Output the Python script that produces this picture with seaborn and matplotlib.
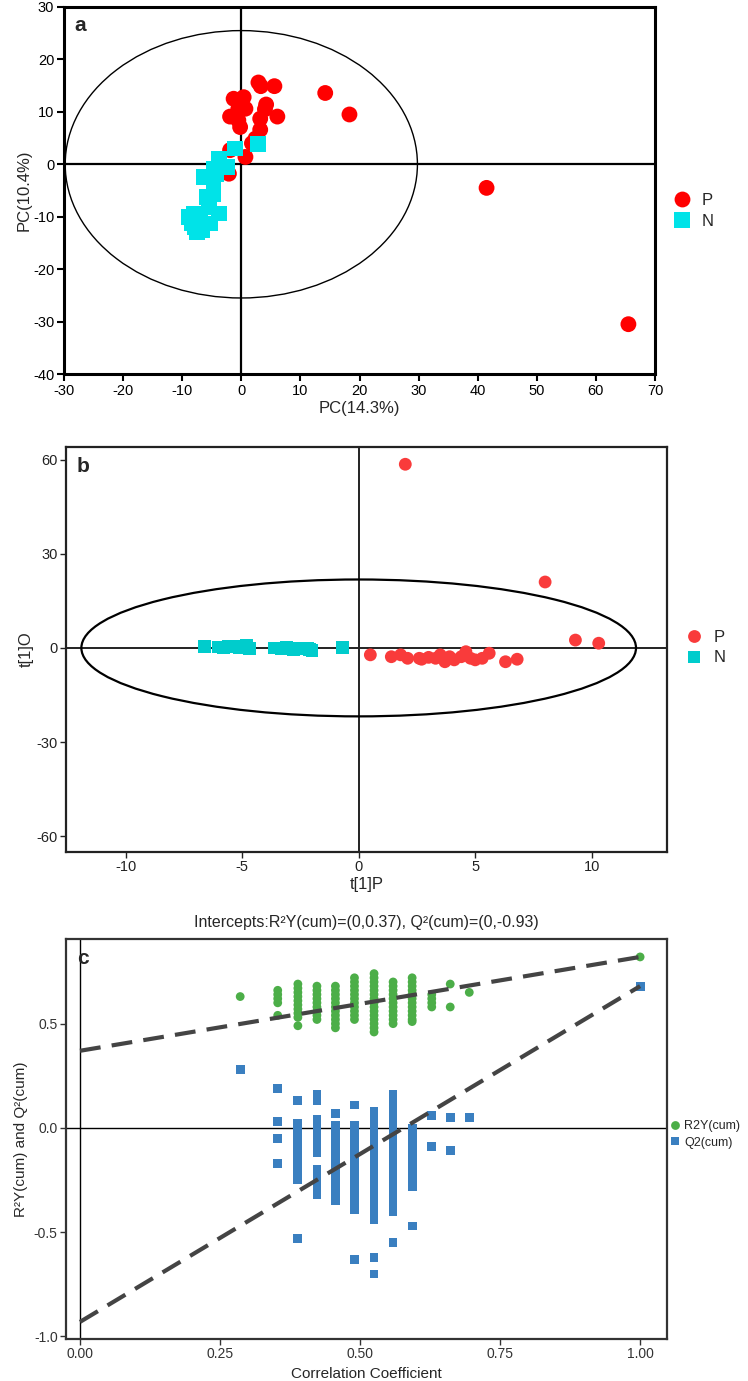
import numpy as np
import pandas as pd
import matplotlib
matplotlib.use("Agg")
import matplotlib.pyplot as plt
from matplotlib.patches import Ellipse
import seaborn as sns

sns.set_theme(style="white")
plt.rcParams['font.family'] = ['Liberation Sans', 'DejaVu Sans']
plt.rcParams['axes.unicode_minus'] = False

# ---------------- Panel a : PCA scores ----------------
pca_p_x = [2.9, 3.3, 5.6, 14.2, 18.3, -1.3, 0.4, -0.5, 0.7, 4.2, 4.0, -1.9, -0.5,
           3.2, 6.1, -0.2, 3.2, 2.4, 1.8, -1.9, 0.7, -2.1, 41.5, 65.5]
pca_p_y = [15.6, 14.9, 14.9, 13.6, 9.5, 12.5, 12.8, 10.6, 10.6, 11.4, 10.5, 9.1, 8.4,
           8.7, 9.1, 7.1, 6.6, 4.9, 4.0, 2.7, 1.4, -1.8, -4.5, -30.5]
pca_n_x = [-1.0, 2.8, -3.8, -2.4, -4.7, -6.4, -4.7, -4.7, -5.8, -3.8, -5.5, -8.1,
           -8.3, -7.5, -6.6, -5.2, -6.9, -8.9, -4.2, -7.8]
pca_n_y = [3.0, 3.8, 1.1, -0.5, -0.8, -2.4, -3.0, -5.6, -6.2, -9.4, -8.1, -9.4,
           -11.3, -12.9, -12.6, -11.3, -10.7, -10.0, -1.8, -12.0]
pca_ellipse_axes = (29.8, 25.5)
pca_xticks = [-30, -20, -10, 0, 10, 20, 30, 40, 50, 60, 70]
pca_yticks = [-40, -30, -20, -10, 0, 10, 20, 30]

# ---------------- Panel b : OPLS-DA scores ----------------
opls_p_x = [2.0, 8.0, 9.3, 10.3, 0.5, 1.4, 1.8, 2.1, 2.6, 2.7, 3.3, 3.5, 3.7, 3.9,
            4.4, 4.6, 4.8, 5.0, 5.3, 5.6, 6.3, 6.8, 4.1, 3.0]
opls_p_y = [58.5, 21.0, 2.5, 1.5, -2.2, -2.8, -2.2, -3.3, -3.3, -3.6, -3.3, -2.2, -4.4,
            -2.8, -2.8, -1.2, -3.3, -3.8, -3.3, -1.7, -4.4, -3.6, -3.8, -3.0]
opls_n_x = [-6.6, -6.0, -5.6, -5.3, -5.1, -4.8, -4.7, -5.8, -3.6, -3.3, -3.0, -2.8,
            -2.5, -2.2, -2.0, -0.7, -5.5, -4.9, -2.1, -3.1]
opls_n_y = [0.4, 0.3, 0.4, 0.5, 0.2, 0.7, -0.2, 0.1, 0.0, -0.3, -0.2, -0.4,
            -0.3, -0.2, -0.9, 0.2, 0.6, 0.3, -0.6, 0.1]
opls_ellipse_axes = (11.9, 21.8)
opls_xticks = [-10, -5, 0, 5, 10]
opls_yticks = [-60, -30, 0, 30, 60]

# ---------------- Panel c : permutation test ----------------
perm_corr = [0.286, 0.353, 0.389, 0.423, 0.456, 0.490, 0.525, 0.559, 0.593,
             0.628, 0.661, 0.695, 1.0]
r2y_cols = [
    [0.63],
    [0.66, 0.64, 0.62, 0.60, 0.54],
    [0.69, 0.67, 0.65, 0.63, 0.61, 0.59, 0.57, 0.55, 0.53, 0.49],
    [0.68, 0.66, 0.64, 0.62, 0.60, 0.58, 0.56, 0.54, 0.52],
    [0.68, 0.66, 0.64, 0.62, 0.60, 0.58, 0.56, 0.54, 0.52, 0.50, 0.48],
    [0.72, 0.70, 0.68, 0.66, 0.64, 0.62, 0.60, 0.58, 0.56, 0.54, 0.52],
    [0.74, 0.72, 0.70, 0.68, 0.66, 0.64, 0.62, 0.60, 0.58, 0.56, 0.54, 0.52, 0.50, 0.48, 0.46],
    [0.70, 0.68, 0.66, 0.64, 0.62, 0.60, 0.58, 0.56, 0.54, 0.52, 0.50],
    [0.72, 0.70, 0.68, 0.66, 0.64, 0.62, 0.60, 0.58, 0.56, 0.54, 0.52, 0.51],
    [0.64, 0.62, 0.60, 0.58],
    [0.69, 0.58],
    [0.65],
    [0.82],
]
q2_cols = [
    [0.28],
    [0.19, 0.03, -0.05, -0.17],
    [0.13, 0.02, -0.02, -0.06, -0.10, -0.14, -0.18, -0.22, -0.25, -0.53],
    [0.16, 0.13, 0.04, 0.00, -0.04, -0.08, -0.12, -0.20, -0.24, -0.28, -0.32],
    [0.07, 0.01, -0.03, -0.07, -0.11, -0.15, -0.19, -0.23, -0.27, -0.31, -0.35],
    [0.11, 0.01, -0.03, -0.07, -0.11, -0.15, -0.19, -0.23, -0.27, -0.31, -0.35, -0.39, -0.63],
    [0.08, 0.04, 0.00, -0.04, -0.08, -0.12, -0.16, -0.20, -0.24, -0.28, -0.32, -0.36, -0.40, -0.44, -0.62, -0.70],
    [0.16, 0.12, 0.08, 0.04, 0.00, -0.04, -0.08, -0.12, -0.16, -0.20, -0.24, -0.28, -0.32, -0.36, -0.40, -0.55],
    [0.00, -0.04, -0.08, -0.12, -0.16, -0.20, -0.24, -0.28, -0.47],
    [0.06, -0.09],
    [0.05, -0.11],
    [0.05],
    [0.68],
]
r2y_intercept = 0.37
q2_intercept = -0.93
perm_xticks = [0.0, 0.25, 0.5, 0.75, 1.0]
perm_yticks = [-1.0, -0.5, 0.0, 0.5]

W, H = 748, 1381
fig = plt.figure(figsize=(W / 100, H / 100), dpi=100)


def rect(l, t, r, b):
    return [l / W, 1 - b / H, (r - l) / W, (b - t) / H]


# ======== Panel a ========
ax = fig.add_axes(rect(64, 7, 655, 374))
dfa = pd.DataFrame({
    "x": pca_p_x + pca_n_x,
    "y": pca_p_y + pca_n_y,
    "g": ["P"] * len(pca_p_x) + ["N"] * len(pca_n_x),
})
sns.scatterplot(data=dfa, x="x", y="y", hue="g", style="g",
                markers={"P": "o", "N": "s"},
                palette={"P": "#ff0000", "N": "#00e3e8"},
                s=130, linewidth=0, ax=ax, zorder=3)
ax.add_patch(Ellipse((0, 0), 2 * pca_ellipse_axes[0], 2 * pca_ellipse_axes[1],
                     fill=False, edgecolor="black", lw=1.0, zorder=2))
ax.axhline(0, color="black", lw=1.6, zorder=1)
ax.axvline(0, color="black", lw=1.6, zorder=1)
ax.set_xlim(-30, 70)
ax.set_ylim(-40, 30)
ax.set_xticks(pca_xticks)
ax.set_yticks(pca_yticks)
ax.tick_params(axis="both", which="both", direction="out", length=5, width=1.5,
               labelsize=10.5, left=True, bottom=True, pad=2, colors="black")
for sp in ax.spines.values():
    sp.set_linewidth(2.2)
    sp.set_color("black")
ax.set_xlabel("PC(14.3%)", fontsize=12, labelpad=2)
ax.set_ylabel("PC(10.4%)", fontsize=12, labelpad=1)
ax.text(0.018, 0.975, "a", transform=ax.transAxes, fontsize=15, fontweight="bold",
        va="top", ha="left")
sns.move_legend(ax, "center left", bbox_to_anchor=(1.0, 0.444), frameon=False,
                title=None, fontsize=12, handletextpad=0.2, labelspacing=0.35,
                borderaxespad=0.2)

# ======== Panel b ========
ax = fig.add_axes(rect(66, 447, 667, 852))
dfb = pd.DataFrame({
    "x": opls_p_x + opls_n_x,
    "y": opls_p_y + opls_n_y,
    "g": ["P"] * len(opls_p_x) + ["N"] * len(opls_n_x),
})
sns.scatterplot(data=dfb, x="x", y="y", hue="g", style="g",
                markers={"P": "o", "N": "s"},
                palette={"P": "#f93b3b", "N": "#00cccc"},
                s=85, linewidth=0, ax=ax, zorder=3)
ax.add_patch(Ellipse((0, 0), 2 * opls_ellipse_axes[0], 2 * opls_ellipse_axes[1],
                     fill=False, edgecolor="black", lw=1.6, zorder=2))
ax.axhline(0, color="#222222", lw=1.4, zorder=1)
ax.axvline(0, color="#222222", lw=1.4, zorder=1)
ax.set_xlim(-12.56, 13.23)
ax.set_ylim(-65, 64)
ax.set_xticks(opls_xticks)
ax.set_yticks(opls_yticks)
ax.tick_params(axis="both", which="both", direction="out", length=4, width=1,
               labelsize=10.5, left=True, bottom=True, pad=2, colors="#222222")
for sp in ax.spines.values():
    sp.set_linewidth(1.6)
    sp.set_color("#222222")
ax.set_xlabel("t[1]P", fontsize=12, labelpad=2)
ax.set_ylabel("t[1]O", fontsize=12, labelpad=2)
ax.text(0.018, 0.975, "b", transform=ax.transAxes, fontsize=15, fontweight="bold",
        va="top", ha="left")
sns.move_legend(ax, "center left", bbox_to_anchor=(1.0, 0.505), frameon=False,
                title=None, fontsize=12, handletextpad=0.2, labelspacing=0.35,
                borderaxespad=0.2)

# ======== Panel c ========
ax = fig.add_axes(rect(66, 939, 667, 1339))
rows = []
for xv, col in zip(perm_corr, r2y_cols):
    for v in col:
        rows.append((xv, v, "R2Y(cum)"))
for xv, col in zip(perm_corr, q2_cols):
    for v in col:
        rows.append((xv, v, "Q2(cum)"))
dfc = pd.DataFrame(rows, columns=["x", "y", "g"])
sns.scatterplot(data=dfc, x="x", y="y", hue="g", style="g",
                markers={"R2Y(cum)": "o", "Q2(cum)": "s"},
                palette={"R2Y(cum)": "#4cae48", "Q2(cum)": "#3a7fc0"},
                s=40, linewidth=0, ax=ax, zorder=3)
x_end = perm_corr[-1]
ax.plot([0, x_end], [r2y_intercept, r2y_cols[-1][0]], color="#444444", lw=3,
        dashes=(5, 2.7), zorder=4)
ax.plot([0, x_end], [q2_intercept, q2_cols[-1][0]], color="#444444", lw=3,
        dashes=(5, 2.7), zorder=4)
ax.axhline(0, color="black", lw=1.0, zorder=1)
ax.axvline(0, color="black", lw=1.0, zorder=1)
ax.set_xlim(-0.025, 1.048)
ax.set_ylim(-1.012, 0.906)
ax.set_xticks(perm_xticks)
ax.set_xticklabels([f"{t:.2f}" for t in perm_xticks])
ax.set_yticks(perm_yticks)
ax.set_yticklabels([f"{t:.1f}" for t in perm_yticks])
ax.tick_params(axis="both", which="both", direction="out", length=4, width=1,
               labelsize=10, left=True, bottom=True, pad=2, colors="#333333")
for sp in ax.spines.values():
    sp.set_linewidth(1.6)
    sp.set_color("#333333")
ax.set_xlabel("Correlation Coefficient", fontsize=11, labelpad=4)
ax.set_ylabel("R²Y(cum) and Q²(cum)", fontsize=11, labelpad=4)
ax.set_title("Intercepts:R²Y(cum)=(0,0.37), Q²(cum)=(0,-0.93)", fontsize=11.5, pad=9)
ax.text(0.018, 0.975, "c", transform=ax.transAxes, fontsize=15, fontweight="bold",
        va="top", ha="left")
sns.move_legend(ax, "center left", bbox_to_anchor=(0.995, 0.511), frameon=False,
                title=None, fontsize=9, handletextpad=0.3, labelspacing=0.35,
                borderaxespad=0.1, handlelength=0.8)

fig.savefig("out.png", dpi=100)
